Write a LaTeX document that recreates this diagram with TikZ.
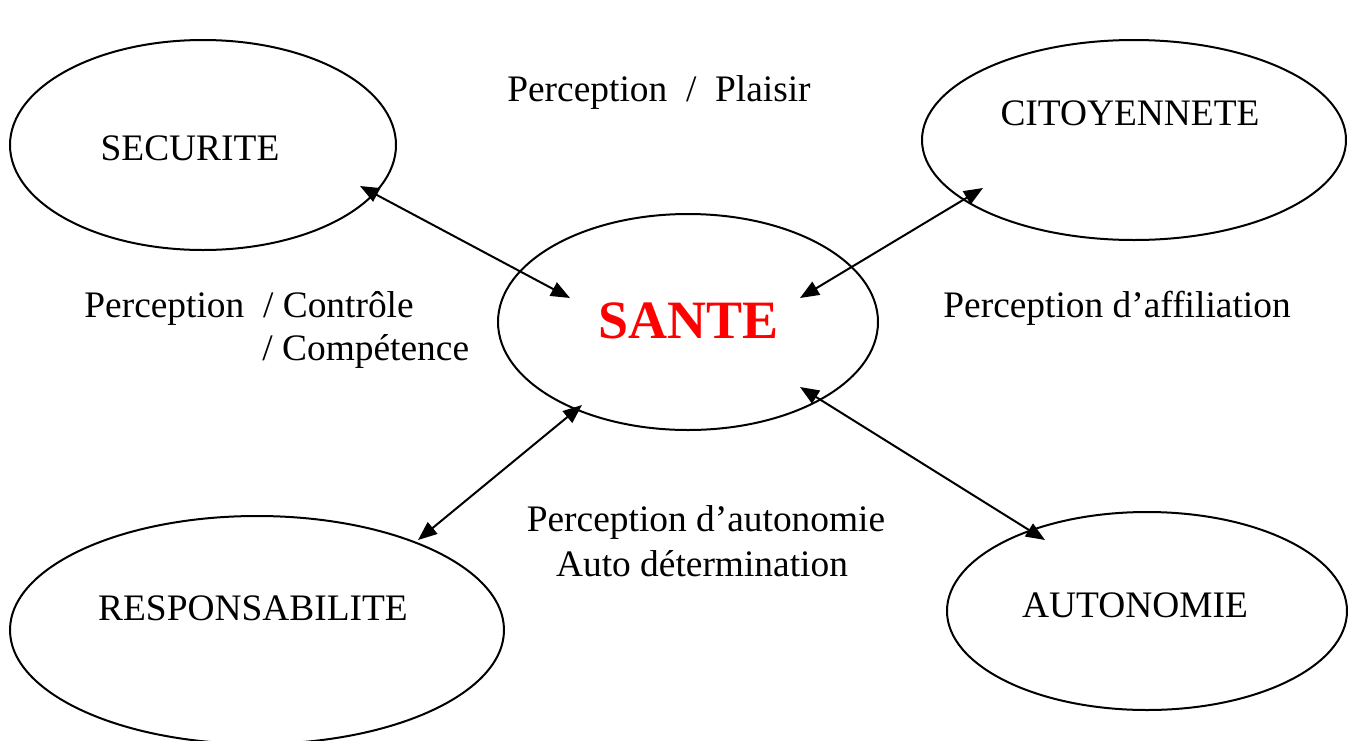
\documentclass[tikz,border=0pt]{standalone}
\usepackage{fontspec}
\setmainfont{Liberation Serif}
\usetikzlibrary{shapes.geometric,arrows.meta}
\begin{document}
\begin{tikzpicture}[x=0.5pt,y=-0.5pt,
  bubble/.style={draw,ellipse,line width=1pt,inner sep=0pt,outer sep=0pt},
  lbl/.style={inner sep=0pt,font=\fontsize{18.7pt}{22pt}\selectfont},
  link/.style={line width=1pt,{Triangle[length=9.5pt,width=7.5pt]}-{Triangle[length=9.5pt,width=7.5pt]}}]
\useasboundingbox (0,0) rectangle (1356,740);
\node[bubble,minimum width=193pt,minimum height=105pt] (secu) at (203,145) {};
\node[bubble,minimum width=212pt,minimum height=100pt] (cito) at (1134,140) {};
\node[bubble,minimum width=190pt,minimum height=108pt] (sante) at (688,322) {};
\node[bubble,minimum width=247pt,minimum height=114pt] (resp) at (257,630) {};
\node[bubble,minimum width=200pt,minimum height=99pt] (auto) at (1147,611) {};
\node[lbl] (tsecu) at (190,148) {SECURITE};
\node[lbl] (tcito) at (1130,113) {CITOYENNETE};
\node[inner sep=0pt,text=red,font=\fontsize{27pt}{30pt}\selectfont\bfseries] (tsante) at (689,321) {SANTE};
\node[lbl] (tresp) at (253,608) {RESPONSABILITE};
\node[lbl] (tauto) at (1135,605) {AUTONOMIE};
\node[lbl] (plaisir) at (659,93) {Perception \ /\ \ Plaisir};
\node[lbl,anchor=west] (controle) at (84,308) {Perception \ / Contrôle};
\node[lbl,anchor=west] (competence) at (262,351) {/ Compétence};
\node[lbl,anchor=west] (affil) at (943,308) {Perception d’affiliation};
\node[lbl] (autonomie) at (706,522) {Perception d’autonomie};
\node[lbl] (autodet) at (702,564) {Auto détermination};
\coordinate (s1) at (360,186);
\coordinate (s2) at (570,298);
\coordinate (c1) at (983,188);
\coordinate (c2) at (800,298);
\coordinate (r1) at (418,540);
\coordinate (r2) at (582,405);
\coordinate (a1) at (800,387);
\coordinate (a2) at (1045,540);
\draw[link] (s1) -- (s2);
\draw[link] (c1) -- (c2);
\draw[link] (r1) -- (r2);
\draw[link] (a1) -- (a2);
\end{tikzpicture}
\end{document}
